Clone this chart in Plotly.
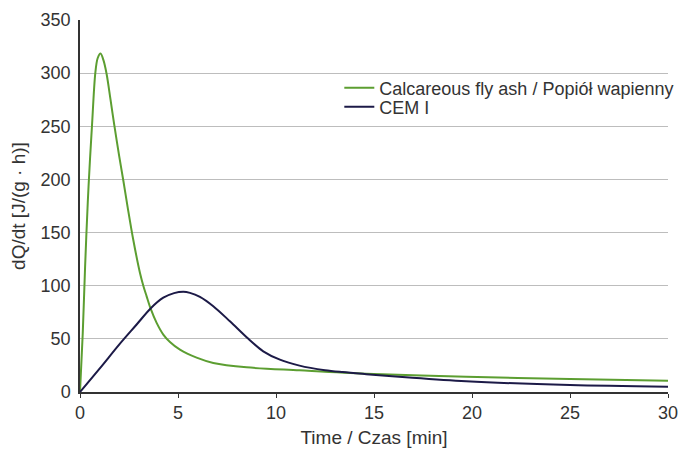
import plotly.graph_objects as go

# Calcareous fly ash / Popiół wapienny
ash_t = [0, 0.14, 0.26, 0.4, 0.51, 0.61, 0.78, 0.9, 1.05, 1.2, 1.36, 1.55, 1.75, 2.0, 2.21, 2.43, 2.72, 3.06, 3.23, 3.4, 3.6, 3.91, 4.25, 4.59, 5.1, 5.95, 6.8, 8.5, 11.2, 14.6, 19.7, 25, 30]
ash_q = [0, 55, 118, 180, 219, 250, 300, 314, 318.5, 312, 299, 276, 251, 222, 199, 174, 143, 112, 100, 90, 78.6, 65, 54, 47, 39.8, 32.3, 27.3, 23.2, 20.4, 17.2, 14.3, 12.3, 10.7]

# CEM I
cem_t = [0, 1.0, 2.04, 2.89, 3.6, 4.25, 4.8, 5.27, 5.61, 6.12, 6.8, 7.65, 8.59, 9.35, 10.2, 11.2, 12.5, 13.4, 14.6, 16.8, 19.7, 25, 30]
cem_q = [0, 22, 45.5, 63.5, 78.6, 88.7, 93, 94.3, 93.3, 89.5, 80.7, 66.5, 50, 38.3, 30.4, 24.8, 20.5, 18.7, 16.8, 13.6, 10.1, 6.6, 5]

x_ticks = [0, 5, 10, 15, 20, 25, 30]
y_ticks = [0, 50, 100, 150, 200, 250, 300, 350]

font_family = "Liberation Sans, Arial, sans-serif"

fig = go.Figure()
fig.add_trace(go.Scatter(x=ash_t, y=ash_q, mode="lines",
                         name="Calcareous fly ash / Popiół wapienny", legend="legend",
                         line=dict(color="#5c9e31", width=2, shape="spline", smoothing=0.9)))
fig.add_trace(go.Scatter(x=cem_t, y=cem_q, mode="lines", name="CEM I", legend="legend2",
                         line=dict(color="#1c1a47", width=2, shape="spline", smoothing=0.9)))

leg_common = dict(xanchor="left", yanchor="middle", bgcolor="rgba(0,0,0,0)",
                  font=dict(size=18, color="#333333"), itemwidth=30)

fig.update_layout(
    width=679, height=449,
    margin=dict(l=80, r=11, t=20, b=57, autoexpand=False),
    paper_bgcolor="white", plot_bgcolor="white",
    font=dict(family=font_family, size=18, color="#333333"),
    showlegend=True,
    legend=dict(x=0.441, y=0.817, **leg_common),
    legend2=dict(x=0.441, y=0.766, **leg_common),
    xaxis=dict(range=[0, 30], tickvals=x_ticks, showgrid=False, zeroline=False,
               showline=True, linecolor="#333333", linewidth=1.5,
               ticks="outside", ticklen=4, tickcolor="#333333", automargin=False,
               title=dict(text="Time / Czas [min]", font=dict(size=19), standoff=8)),
    yaxis=dict(range=[0, 350], tickvals=y_ticks, showgrid=True, gridcolor="#bdbdbd",
               gridwidth=1, zeroline=False, showline=True, linecolor="#333333",
               linewidth=1.5, ticks="", ticklabelstandoff=4, automargin=False,
               title=dict(text="dQ/dt [J/(g · h)]", font=dict(size=19), standoff=10)),
)

fig.write_html("out.html")
